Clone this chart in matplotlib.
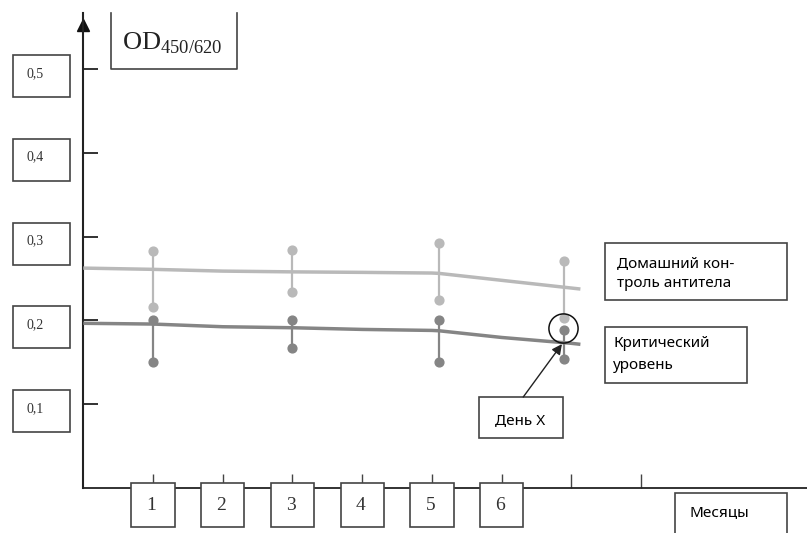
import matplotlib
matplotlib.use('Agg')
import matplotlib.pyplot as plt
from matplotlib.patches import Rectangle

plt.rcParams['mathtext.fontset'] = 'custom'
plt.rcParams['mathtext.rm'] = 'Liberation Serif'

# Data
line_x = [0, 1, 2, 3, 4, 5, 5.1, 6, 7, 7.13]
control_y = [0.2625, 0.2610, 0.2589, 0.2580, 0.2574, 0.2566, 0.2562, 0.2479, 0.2387, 0.2375]
critical_y = [0.1966, 0.1957, 0.1925, 0.1913, 0.1893, 0.1881, 0.1877, 0.1797, 0.1727, 0.1715]

bar_x = [1, 3, 5.1, 6.9]
control_hi = [0.283, 0.284, 0.292, 0.271]
control_lo = [0.216, 0.234, 0.225, 0.2025]
critical_hi = [0.2005, 0.2005, 0.2005, 0.1885]
critical_lo = [0.150, 0.1675, 0.150, 0.154]

y_ticks = [0.1, 0.2, 0.3, 0.4, 0.5]
y_labels = ['0,1', '0,2', '0,3', '0,4', '0,5']
x_ticks = [1, 2, 3, 4, 5, 6, 7, 8]
x_labels = ['1', '2', '3', '4', '5', '6']

day_x = (6.88, 0.1915)

light = '#b9b9b9'
dark = '#858585'
edge = '#444444'
rus = 'Noto Sans'

fig = plt.figure(figsize=(8.07, 5.33), dpi=100)
ax = fig.add_axes([83.3 / 807, 45 / 533, (807 - 83.3) / 807, 475 / 533])
ax.set_xlim(0, 10.38)
ax.set_ylim(0, 0.567)

for s in ['top', 'right']:
    ax.spines[s].set_visible(False)
ax.spines['left'].set_linewidth(1.5)
ax.spines['bottom'].set_linewidth(1.3)
ax.spines['left'].set_color('#222222')
ax.spines['bottom'].set_color('#222222')

ax.set_yticks(y_ticks)
ax.set_yticklabels([])
ax.set_xticks(x_ticks)
ax.set_xticklabels([])
ax.tick_params(axis='y', direction='in', length=11, width=1.3, color='#222222')
ax.tick_params(axis='x', direction='in', length=10, width=1.0, color='#444444')
ax.yaxis.get_major_ticks()[2].tick1line.set_color('#aaaaaa')

# arrow at the top of the y axis
ax.plot(0, 0.553, marker='^', ms=8, color='#111111', clip_on=False)

# lines
ax.plot(line_x, control_y, color=light, lw=2.5, solid_capstyle='butt', zorder=3)
ax.plot(line_x, critical_y, color=dark, lw=2.5, solid_capstyle='butt', zorder=3)

# range bars
for xb, hi, lo in zip(bar_x, control_hi, control_lo):
    ax.plot([xb, xb], [lo, hi], color=light, lw=1.6, zorder=3)
ax.scatter(bar_x, control_hi, s=40, color=light, zorder=4)
ax.scatter(bar_x, control_lo, s=40, color=light, zorder=4)
for xb, hi, lo in zip(bar_x, critical_hi, critical_lo):
    ax.plot([xb, xb], [lo, hi], color=dark, lw=1.6, zorder=3)
ax.scatter(bar_x, critical_hi, s=40, color=dark, zorder=4)
ax.scatter(bar_x, critical_lo, s=40, color=dark, zorder=4)

# circle around day X
ax.plot(day_x[0], day_x[1], marker='o', ms=21, mfc='none', mec='#111111', mew=1.1, zorder=5)

# y tick label boxes
for v, lab in zip(y_ticks, y_labels):
    ax.add_patch(Rectangle((-1.01, v - 0.0334), 0.82, 0.0501, fill=False,
                           ec=edge, lw=1.2, clip_on=False))
    ax.text(-0.82, v - 0.005, lab, family='Liberation Serif', fontsize=10,
            va='center', ha='left', color='#333333', clip_on=False)

# x tick label boxes
for v, lab in zip(x_ticks, x_labels):
    ax.add_patch(Rectangle((v - 0.31, -0.0465), 0.62, 0.0525, fc='white',
                           ec=edge, lw=1.2, clip_on=False, zorder=6))
    ax.text(v - 0.02, -0.0205, lab, family='Liberation Serif', fontsize=14,
            va='center', ha='center', color='#333333', clip_on=False, zorder=7)

# OD box (open at the top)
ax.plot([0.397, 0.397, 2.205, 2.205], [0.567, 0.5, 0.5, 0.567], color=edge,
        lw=1.2, clip_on=False)
ax.text(1.28, 0.531, r'$\mathrm{OD}_{450/620}$', fontsize=19, ha='center',
        va='center', color='#222222', clip_on=False)

# legend-like boxes on the right
ax.add_patch(Rectangle((7.485, 0.2243), 2.611, 0.0681, fill=False, ec=edge,
                       lw=1.2, clip_on=False))
ax.text(7.66, 0.2685, 'Домашний кон-', family=rus, fontsize=11, va='center',
        ha='left', color='#000000')
ax.text(7.66, 0.2446, 'троль антитела', family=rus, fontsize=11, va='center',
        ha='left', color='#000000')

ax.add_patch(Rectangle((7.485, 0.1253), 2.038, 0.0668, fill=False, ec=edge,
                       lw=1.2, clip_on=False))
ax.text(7.60, 0.173, 'Критический', family=rus, fontsize=11, va='center',
        ha='left', color='#000000')
ax.text(7.60, 0.1468, 'уровень', family=rus, fontsize=11, va='center',
        ha='left', color='#000000')

ax.add_patch(Rectangle((8.49, -0.08), 1.606, 0.074, fill=False, ec=edge,
                       lw=1.2, clip_on=False))
ax.text(8.70, -0.0298, 'Месяцы', family=rus, fontsize=11, va='center',
        ha='left', color='#000000', clip_on=False)

# day X label with arrow
ax.add_patch(Rectangle((5.677, 0.0597), 1.205, 0.0489, fill=False, ec=edge,
                       lw=1.2, clip_on=False))
ax.annotate('', xy=(6.865, 0.1718), xytext=(6.31, 0.1086),
            arrowprops=dict(arrowstyle='-|>', color='#222222', lw=1.0,
                            mutation_scale=15, shrinkA=0, shrinkB=0), zorder=6)
ax.text(6.27, 0.081, 'День X', family=rus, fontsize=11, va='center',
        ha='center', color='#000000')

fig.savefig('out.png', dpi=100)
